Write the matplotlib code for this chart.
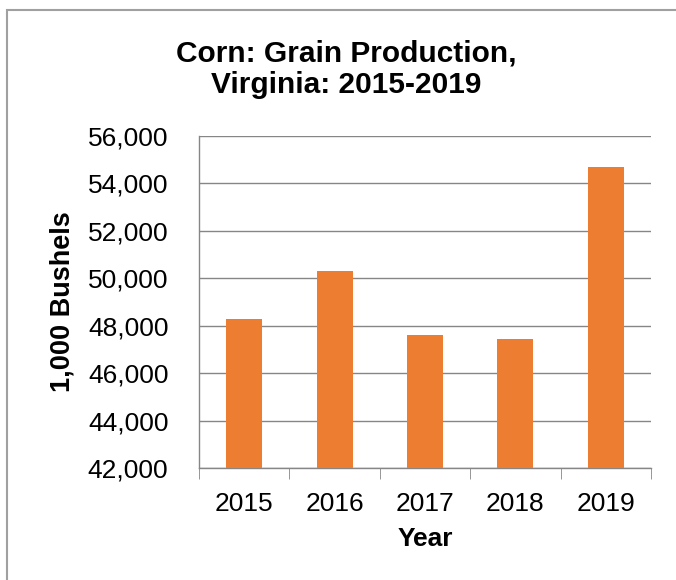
import matplotlib
matplotlib.use("Agg")
from matplotlib import pyplot as plt
from matplotlib.patches import Rectangle
from matplotlib.ticker import FuncFormatter, FixedLocator

years = ['2015', '2016', '2017', '2018', '2019']
production = [48300, 50300, 47600, 47420, 54700]
y_ticks = [42000, 44000, 46000, 48000, 50000, 52000, 54000, 56000]

plt.rcParams['font.family'] = ['Liberation Sans', 'DejaVu Sans']

fig = plt.figure(figsize=(6.76, 5.8), dpi=100)
ax = fig.add_axes([199/676, 112/580, 452/676, 332/580])

x = range(len(years))
ax.bar(x, production, width=0.4, color='#ED7D31', zorder=3)

ax.set_ylim(42000, 56000)
ax.set_xlim(-0.5, len(years) - 0.5)
ax.set_yticks(y_ticks)
ax.yaxis.set_major_formatter(FuncFormatter(lambda v, p: "{:,.0f}".format(v)))
ax.set_xticks(list(x))
ax.set_xticklabels(years)
ax.xaxis.set_minor_locator(FixedLocator([i - 0.5 for i in range(len(years) + 1)]))

ax.tick_params(axis='y', length=0, labelsize=19, pad=22)
ax.tick_params(axis='x', which='major', length=0, labelsize=19, pad=17)
ax.tick_params(axis='x', which='minor', length=8, color='#868686', direction='out')

ax.grid(axis='y', color='#868686', lw=1, zorder=0)
for s in ['top', 'right']:
    ax.spines[s].set_visible(False)
for s in ['left', 'bottom']:
    ax.spines[s].set_color('#868686')
    ax.spines[s].set_linewidth(1)

ax.set_xlabel('Year', fontsize=19, fontweight='bold', labelpad=8)
ax.set_ylabel('1,000 Bushels', fontsize=19.5, fontweight='bold', labelpad=9)

# title, two lines
fig.text(346/676, 1 - 62/580, "Corn: Grain Production,", ha='center', va='baseline',
         fontsize=21.5, fontweight='bold')
fig.text(346/676, 1 - 93/580, "Virginia: 2015-2019", ha='center', va='baseline',
         fontsize=21.5, fontweight='bold')

# outer chart border (cut off at right/bottom)
fig.patches.append(Rectangle((7/676, -0.1), 1.2, 1 - 10/580 + 0.1, transform=fig.transFigure,
                             fill=False, ec='#a0a0a0', lw=1.5))

fig.savefig('out.png', dpi=100)
